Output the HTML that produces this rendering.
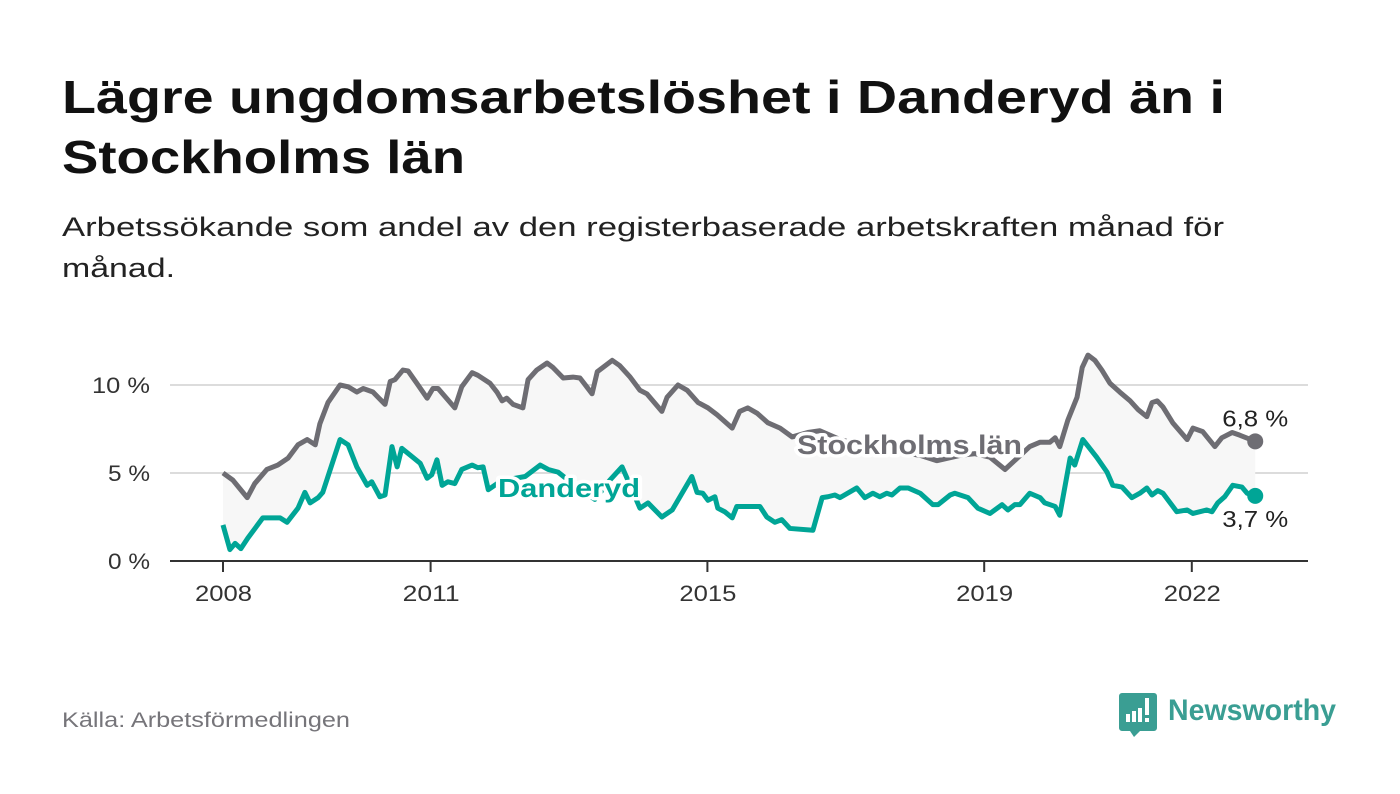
<!DOCTYPE html>
<html><head><meta charset="utf-8"><style>
html,body{margin:0;padding:0;background:#fff;}
svg{display:block;font-family:"Liberation Sans","DejaVu Sans",sans-serif;}
</style></head><body>
<svg id="chart" width="1400" height="794" viewBox="0 0 1400 794">
<text x="62" y="113" font-size="46" font-weight="bold" fill="#111" textLength="1163" lengthAdjust="spacingAndGlyphs">Lägre ungdomsarbetslöshet i Danderyd än i</text>
<text x="62" y="173" font-size="46" font-weight="bold" fill="#111" textLength="403" lengthAdjust="spacingAndGlyphs">Stockholms län</text>
<text x="62" y="236" font-size="27" fill="#222" textLength="1162" lengthAdjust="spacingAndGlyphs">Arbetssökande som andel av den registerbaserade arbetskraften månad för</text>
<text x="62" y="277" font-size="27" fill="#222" textLength="113" lengthAdjust="spacingAndGlyphs">månad.</text>
<g id="plot"></g>
<text x="62" y="727" font-size="21" fill="#76757a" textLength="288" lengthAdjust="spacingAndGlyphs">Källa: Arbetsförmedlingen</text>
<g>
<path d="M1122 693 h32 a3 3 0 0 1 3 3 v32 a3 3 0 0 1 -3 3 h-14 l-6 6 l-4 -6 h-8 a3 3 0 0 1 -3 -3 v-32 a3 3 0 0 1 3 -3z" fill="#3a9e93"/>
<rect x="1126" y="714" width="4" height="8" fill="#fff"/><rect x="1132" y="711" width="4" height="11" fill="#fff"/><rect x="1138" y="708" width="4" height="14" fill="#fff"/><rect x="1145" y="698" width="4" height="17" fill="#fff"/><rect x="1145" y="718" width="4" height="4" fill="#fff"/>
<text x="1168" y="720" font-size="30" font-weight="bold" fill="#3a9e93" textLength="168" lengthAdjust="spacingAndGlyphs">Newsworthy</text>
</g>
</svg>
<script>
const stoMonths=[0,1.7,4.2,5.5,7.6,9.5,11.3,13,14.6,16,16.8,18.2,20.3,21.7,23.2,24.3,26,28.1,29,29.8,31.2,32.1,33.6,35.4,36.4,37.3,40.2,41.4,43.2,44.2,46.3,47.5,48.4,49.2,50.3,52,52.9,54.4,56.2,57.2,59,60.7,61.9,64,64.9,67.5,68.8,70.6,72.3,73.5,76.1,77,78.9,80.5,82.4,84.1,85.7,88.3,89.6,91,92.6,94.5,96.6,98.7,101.4,103.5,107,110.5,114,117.4,120.9,123.8,127.8,130.4,133,135.6,139.9,141.7,143.4,144.3,145.1,146.5,148.1,149,150,151.2,152.4,153.8,155.5,157.3,158.7,160.2,161.1,162,163,164.7,167.2,168.2,169.9,172,173.2,175,176.3,179];
const stoValues=[5.0,4.6,3.6,4.4,5.2,5.45,5.85,6.6,6.9,6.6,7.8,9.0,10.0,9.9,9.6,9.8,9.6,8.9,10.2,10.3,10.85,10.8,10.1,9.25,9.8,9.8,8.7,9.9,10.7,10.55,10.1,9.6,9.1,9.25,8.9,8.7,10.3,10.85,11.25,11.0,10.4,10.45,10.4,9.5,10.75,11.4,11.1,10.45,9.7,9.5,8.5,9.3,10.0,9.7,9.0,8.7,8.3,7.55,8.5,8.7,8.4,7.85,7.55,7.05,7.3,7.4,6.9,6.6,6.3,6.2,6.0,5.7,6.0,6.1,5.9,5.2,6.5,6.75,6.75,7.0,6.5,8.0,9.3,11.0,11.7,11.4,10.85,10.1,9.6,9.1,8.6,8.2,9.0,9.1,8.75,7.85,6.9,7.55,7.35,6.5,7.0,7.3,7.15,6.8];
const danMonths=[0,1.2,2.1,3.1,4.3,6.9,9.9,11.1,13,14.2,15.1,16.5,17.3,20.3,21.7,23.2,25,25.8,27.2,28.1,29.3,30.2,31,32.9,34.2,35.4,36.2,37.1,38,39,40.2,41.4,43.2,44.2,45.1,46,48,50.6,52.4,55,56.4,58.1,61,64.5,67.1,69.2,70.6,72.3,73.7,76.1,77.9,79.6,81.3,82.2,83.2,84.1,85.3,85.8,87,88.3,89.1,93.1,94.3,95.7,96.9,98.3,102.3,103.9,104.9,106.1,107,109.9,111.3,112.7,113.9,115.1,116,117.4,118.8,120.9,123.1,124,126.1,126.9,129.2,130.9,133,135.1,136.1,137.3,138.2,139.9,141.7,142.5,144.3,145.1,146.9,147.7,149.1,151.5,153.3,154.3,155.9,157.6,159,160.2,161.1,162.1,163,165.4,167.2,168.2,170.6,171.5,172.5,173.7,175.1,176.7,177.6,179];
const danValues=[2.05,0.65,1.0,0.7,1.3,2.45,2.45,2.2,3.0,3.9,3.3,3.6,3.9,6.9,6.6,5.35,4.3,4.5,3.65,3.75,6.5,5.35,6.4,5.9,5.55,4.7,4.9,5.75,4.3,4.5,4.4,5.2,5.45,5.3,5.35,4.05,4.5,4.7,4.8,5.45,5.2,5.05,4.3,3.5,4.6,5.35,4.3,3.0,3.3,2.5,2.9,3.85,4.8,3.9,3.85,3.45,3.65,3.0,2.8,2.45,3.1,3.1,2.5,2.2,2.35,1.85,1.75,3.6,3.65,3.75,3.6,4.15,3.6,3.85,3.65,3.85,3.75,4.15,4.15,3.85,3.2,3.2,3.75,3.85,3.6,3.0,2.7,3.2,2.9,3.2,3.2,3.85,3.6,3.3,3.1,2.6,5.85,5.45,6.9,5.9,5.05,4.3,4.2,3.6,3.85,4.15,3.75,4.0,3.85,2.8,2.9,2.7,2.9,2.8,3.3,3.65,4.3,4.2,3.85,3.7];
const yTicks=[0,5,10];
const yTickLabels=["0 %","5 %","10 %"];
const xTickYears=[2008,2011,2015,2019,2022];
const endLabels=["6,8 %","3,7 %"];

const NS="http://www.w3.org/2000/svg";
const g=document.getElementById('plot');
const X0=223, PXM=69.2/12, Y0=561, PXV=17.6;
const xm=m=>X0+m*PXM;
const xy=yr=>X0+(yr-2008)*69.2;
const yv=v=>Y0-v*PXV;
function mk(tag,attrs,parent){const e=document.createElementNS(NS,tag);for(const k in attrs)e.setAttribute(k,attrs[k]);(parent||g).appendChild(e);return e;}

yTicks.forEach((t,i)=>{
  if(t>0){const l=mk('line',{x1:170,x2:1308,y1:yv(t),y2:yv(t),stroke:'#dcdcdc','stroke-width':2});
  
  }
  const lab=yTickLabels[i];
  const tx=mk('text',{x:150,y:yv(t)+8,'font-size':22,fill:'#333','text-anchor':'end',textLength:lab.length>3?58:42,lengthAdjust:'spacingAndGlyphs'});
  tx.textContent=lab;
  
  
});
const sPts=stoMonths.map((m,i)=>[xm(m),yv(stoValues[i])]);
const dPts=danMonths.map((m,i)=>[xm(m),yv(danValues[i])]);
const area=mk('polygon',{points:sPts.concat(dPts.slice().reverse()).map(p=>p.join(',')).join(' '),fill:'#f7f7f7'});


const ax=mk('line',{x1:170,x2:1308,y1:Y0,y2:Y0,stroke:'#333','stroke-width':2});


xTickYears.forEach(yr=>{
  const t=mk('line',{x1:xy(yr),x2:xy(yr),y1:Y0,y2:Y0+11,stroke:'#333','stroke-width':2});
  
  
  const l=mk('text',{x:xy(yr)-28,y:601,'font-size':22,fill:'#333',textLength:57,lengthAdjust:'spacingAndGlyphs'});
  l.textContent=yr;
  
  
});
const sl=mk('polyline',{points:sPts.map(p=>p.join(',')).join(' '),fill:'none',stroke:'#6e6d73','stroke-width':5,'stroke-linejoin':'round'});


const dl=mk('polyline',{points:dPts.map(p=>p.join(',')).join(' '),fill:'none',stroke:'#00a596','stroke-width':5,'stroke-linejoin':'round'});


const sLast=sPts[sPts.length-1], dLast=dPts[dPts.length-1];
const sd=mk('circle',{cx:sLast[0],cy:sLast[1],r:8,fill:'#6e6d73'});


const dd=mk('circle',{cx:dLast[0],cy:dLast[1],r:8,fill:'#00a596'});


const e1=mk('text',{x:sLast[0]-33,y:sLast[1]-15,'font-size':23,fill:'#222',textLength:66,lengthAdjust:'spacingAndGlyphs'});
e1.textContent=endLabels[0];


const e2=mk('text',{x:dLast[0]-33,y:dLast[1]+31,'font-size':23,fill:'#222',textLength:66,lengthAdjust:'spacingAndGlyphs'});
e2.textContent=endLabels[1];


const s1=mk('text',{x:797,y:454,'font-size':27,'font-weight':'bold',fill:'#6e6d73',stroke:'#fff','stroke-width':7,'paint-order':'stroke','stroke-linejoin':'round',textLength:225,lengthAdjust:'spacingAndGlyphs'});
s1.textContent='Stockholms län';


const s2=mk('text',{x:498,y:497,'font-size':26,'font-weight':'bold',fill:'#00a596',stroke:'#fff','stroke-width':7,'paint-order':'stroke','stroke-linejoin':'round',textLength:142,lengthAdjust:'spacingAndGlyphs'});
s2.textContent='Danderyd';


</script>
</body></html>
